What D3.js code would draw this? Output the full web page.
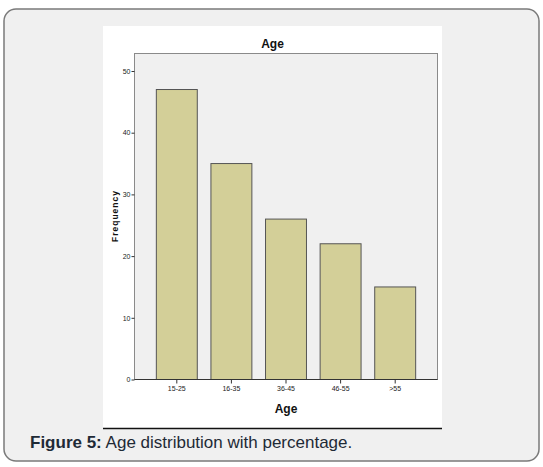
<!DOCTYPE html>
<html>
<head>
<meta charset="utf-8">
<script src="https://cdn.jsdelivr.net/npm/d3@7"></script>
<style>
    body { margin: 0; background: #ffffff; }
    svg { display: block; }
</style>
</head>
<body>
<div id="the_chart"></div>
<script>
var ageGroups = ["15-25", "16-35", "36-45", "46-55", ">55"];
var frequencies = [47, 35, 26, 22, 15];
var yTicks = [0, 10, 20, 30, 40, 50];

var chartTitle = "Age";
var xTitle = "Age";
var yTitle = "Frequency";

var w = 543;
var h = 467;

var svg = d3.select("#the_chart")
    .append("svg")
    .attr("width", w)
    .attr("height", h);

// card behind the figure
svg.append("rect")
    .attr("x", 4)
    .attr("y", 9)
    .attr("width", 535)
    .attr("height", 452)
    .attr("rx", 12)
    .attr("fill", "#f0f0f0")
    .attr("stroke", "#7a7a7a")
    .attr("stroke-width", 1.5);

// white picture area
svg.append("rect")
    .attr("x", 103)
    .attr("y", 26)
    .attr("width", 339)
    .attr("height", 402)
    .attr("fill", "#ffffff");

svg.append("line")
    .attr("x1", 103)
    .attr("x2", 442)
    .attr("y1", 428.5)
    .attr("y2", 428.5)
    .attr("stroke", "#111")
    .attr("stroke-width", 1.5);

var plotLeft = 134.5, plotRight = 437.5, plotTop = 53.5, plotBottom = 379.5;

var yscale = d3.scaleLinear()
    .domain([0, 50])
    .range([plotBottom, 71]);

var xscale = d3.scaleBand()
    .domain(ageGroups)
    .range([plotLeft, plotRight])
    .paddingInner(0.25)
    .paddingOuter(0.4);

// plot background
svg.append("rect")
    .attr("x", plotLeft)
    .attr("y", plotTop)
    .attr("width", plotRight - plotLeft)
    .attr("height", plotBottom - plotTop)
    .attr("fill", "#f0f0f0")
    .attr("stroke", "#8a8a8a")
    .attr("stroke-width", 1);

svg.selectAll("rect.bar")
    .data(frequencies)
    .enter().append("rect")
    .attr("class", "bar")
    .attr("x", function (d, i) {
        return xscale(ageGroups[i]);
    })
    .attr("y", function (d) {
        return yscale(d);
    })
    .attr("width", xscale.bandwidth())
    .attr("height", function (d) {
        return plotBottom - yscale(d);
    })
    .attr("fill", "#d3cf98")
    .attr("stroke", "#555")
    .attr("stroke-width", 1);

// bottom frame line drawn over the bars
svg.append("line")
    .attr("x1", plotLeft)
    .attr("x2", plotRight)
    .attr("y1", plotBottom)
    .attr("y2", plotBottom)
    .attr("stroke", "#333")
    .attr("stroke-width", 1);

var yaxis = d3.axisLeft()
    .scale(yscale)
    .tickValues(yTicks)
    .tickSize(3)
    .tickPadding(1);

var xaxis = d3.axisBottom()
    .scale(xscale)
    .tickSize(4)
    .tickPadding(3);

var gY = svg.append("g")
    .attr("transform", "translate(" + plotLeft + ",0)")
    .call(yaxis);

var gX = svg.append("g")
    .attr("transform", "translate(0," + plotBottom + ")")
    .call(xaxis);

[gY, gX].forEach(function (g) {
    g.select(".domain").remove();
    g.selectAll(".tick line").attr("stroke", "#333");
    g.selectAll(".tick text")
        .attr("fill", "#222")
        .style("font-family", "'Liberation Sans Narrow', 'Arial Narrow', sans-serif")
        .style("font-size", "7px");
});

svg.append("text")
    .attr("x", 272.5)
    .attr("y", 48)
    .attr("text-anchor", "middle")
    .style("font-family", "'Liberation Sans Narrow', 'Arial Narrow', sans-serif")
    .style("font-weight", "bold")
    .style("font-size", "12px")
    .attr("fill", "#111")
    .text(chartTitle);

svg.append("text")
    .attr("x", (plotLeft + plotRight) / 2)
    .attr("y", 413)
    .attr("text-anchor", "middle")
    .style("font-family", "'Liberation Sans Narrow', 'Arial Narrow', sans-serif")
    .style("font-weight", "bold")
    .style("font-size", "12px")
    .attr("fill", "#111")
    .text(xTitle);

svg.append("text")
    .attr("transform", "translate(118,216) rotate(-90)")
    .attr("text-anchor", "middle")
    .style("font-family", "'Liberation Sans', Arial, sans-serif")
    .style("font-weight", "bold")
    .style("font-size", "8.5px")
    .style("letter-spacing", "1px")
    .attr("fill", "#111")
    .text(yTitle);

// caption
var caption = svg.append("text")
    .attr("x", 30)
    .attr("y", 448)
    .style("font-family", "'Liberation Sans', Arial, sans-serif")
    .style("font-size", "17px")
    .attr("fill", "#1e2a36");
caption.append("tspan").style("font-weight", "bold").text("Figure 5:");
caption.append("tspan").text(" Age distribution with percentage.");
</script>
</body>
</html>
